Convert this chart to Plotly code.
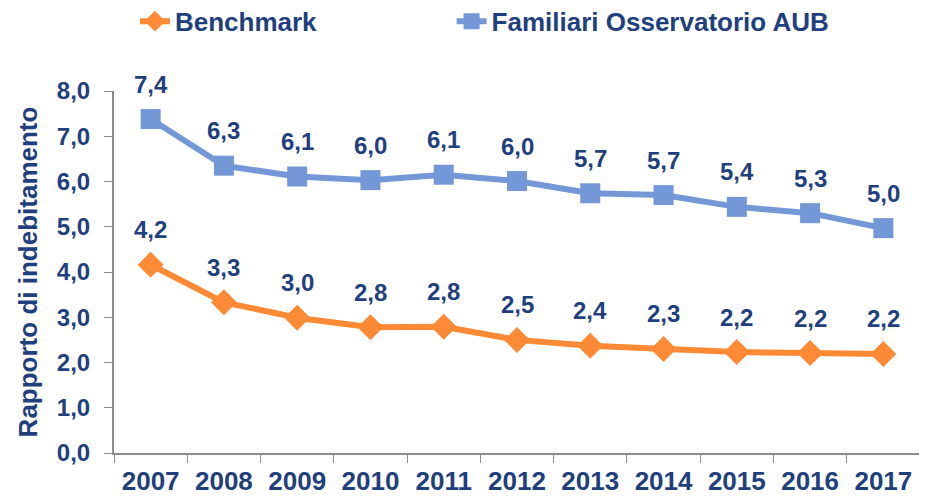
"""
Rapporto di indebitamento: Benchmark vs Familiari Osservatorio AUB.
"""

import plotly.graph_objects as go

# dati
anni = ["2007", "2008", "2009", "2010", "2011", "2012",
        "2013", "2014", "2015", "2016", "2017"]
benchmark = [4.16, 3.33, 2.99, 2.78, 2.79, 2.50, 2.37, 2.30, 2.23, 2.21, 2.19]
familiari = [7.38, 6.35, 6.11, 6.03, 6.15, 6.01, 5.74, 5.70, 5.44, 5.30, 4.97]
etich_bench = ["4,2", "3,3", "3,0", "2,8", "2,8", "2,5", "2,4", "2,3", "2,2", "2,2", "2,2"]
etich_fam = ["7,4", "6,3", "6,1", "6,0", "6,1", "6,0", "5,7", "5,7", "5,4", "5,3", "5,0"]
y_ticks = [0, 1, 2, 3, 4, 5, 6, 7, 8]
y_tick_text = ["0,0", "1,0", "2,0", "3,0", "4,0", "5,0", "6,0", "7,0", "8,0"]

ARANCIO = "#FF8A35"
BLU = "#7497D8"
TESTO = "#1F3F7E"
GRIGIO = "#8C8C8C"
FONT = "Liberation Sans, Arial, sans-serif"

fig = go.Figure()
fig.add_trace(go.Scatter(
    x=anni, y=benchmark, name="<b>Benchmark</b>" + "&nbsp;" * 18, mode="lines+markers",
    line=dict(color=ARANCIO, width=6),
    marker=dict(symbol="diamond", size=20, color=ARANCIO),
))
fig.add_trace(go.Scatter(
    x=anni, y=familiari, name="<b>Familiari Osservatorio AUB</b>", mode="lines+markers",
    line=dict(color=BLU, width=6),
    marker=dict(symbol="square", size=20, color=BLU),
))

# etichette dei valori (x come indice di categoria)
for serie, etich in ((benchmark, etich_bench), (familiari, etich_fam)):
    for i, (v, t) in enumerate(zip(serie, etich)):
        fig.add_annotation(x=i, y=v, text="<b>" + t + "</b>", showarrow=False,
                           yshift=35, font=dict(family=FONT, size=24, color=TESTO))

# la pagina ha un margine di 8 px: la figura è un po' più piccola
fig.update_layout(
    width=919, height=490,
    margin=dict(l=106, r=7, t=83, b=45, autoexpand=False),
    plot_bgcolor="white", paper_bgcolor="white",
    showlegend=True,
    legend=dict(orientation="h", x=0.026, xref="paper", xanchor="left",
                y=0.973, yref="container", yanchor="middle",
                font=dict(family=FONT, size=26, color=TESTO),
                tracegroupgap=0),
    xaxis=dict(type="category", range=[-0.5, 10.5],
               showline=True, linecolor=GRIGIO, linewidth=2,
               ticks="outside", tickson="boundaries", ticklen=8, tickcolor=GRIGIO,
               showgrid=False, zeroline=False, ticklabelstandoff=4,
               tickfont=dict(family=FONT, size=26, color=TESTO),
               tickprefix="<b>", ticksuffix="</b>"),
    yaxis=dict(range=[0, 8], tickvals=y_ticks, ticktext=["<b>" + t + "</b>" for t in y_tick_text],
               showline=True, linecolor=GRIGIO, linewidth=2,
               ticks="outside", ticklen=8, tickcolor=GRIGIO,
               showgrid=False, zeroline=False, ticklabelstandoff=9,
               tickfont=dict(family=FONT, size=24, color=TESTO),
               title=dict(text="<b>Rapporto di indebitamento</b>", standoff=12,
                          font=dict(family=FONT, size=26, color=TESTO))),
)

fig.write_html("out.html")
